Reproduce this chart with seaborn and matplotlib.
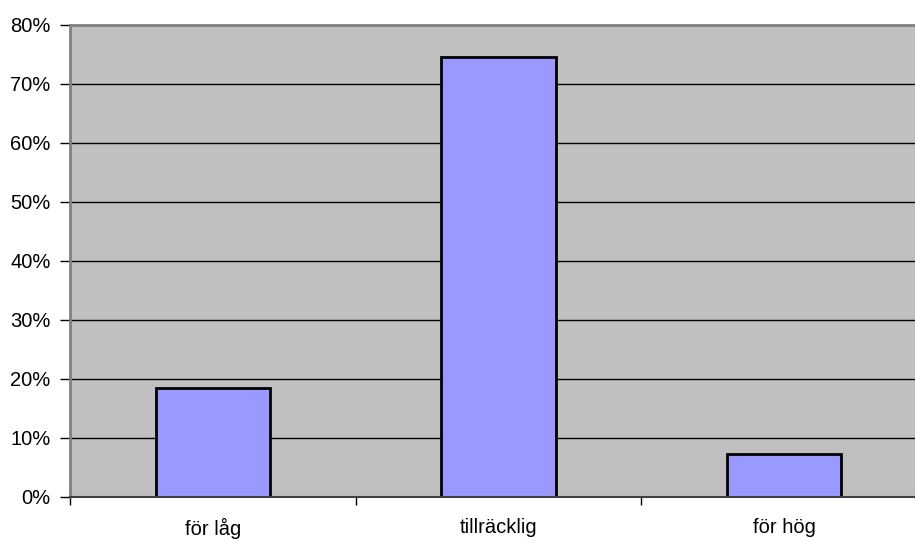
import matplotlib
matplotlib.use("Agg")
import matplotlib.pyplot as plt
import seaborn as sns
import pandas as pd
from matplotlib.ticker import FixedLocator, PercentFormatter

categories = ["för låg", "tillräcklig", "för hög"]
values = [18.4, 74.6, 7.2]
yticks = [0, 10, 20, 30, 40, 50, 60, 70, 80]

sns.set_style("white")
plt.rcParams['font.family'] = ['Liberation Sans', 'DejaVu Sans']

df = pd.DataFrame({"cat": categories, "val": values})

W, H = 915, 541
fig = plt.figure(figsize=(W / 100, H / 100), dpi=100)
left, right, top, bottom = 70, 927, 24.7, 496.7
ax = fig.add_axes([left / W, (H - bottom) / H, (right - left) / W, (bottom - top) / H])

sns.barplot(data=df, x="cat", y="val", ax=ax, color="#9999FF", width=0.40,
            edgecolor="black", linewidth=2, saturation=1)

ax.set_facecolor("#C0C0C0")
ax.set_xlim(-0.5, 2.5)
ax.set_ylim(0, 80)
ax.set_yticks(yticks)
ax.yaxis.set_major_formatter(PercentFormatter(decimals=0))
ax.yaxis.grid(True, color="black", linewidth=1)
ax.set_axisbelow(True)
ax.set_xlabel("")
ax.set_ylabel("")

ax.xaxis.set_minor_locator(FixedLocator([-0.5, 0.5, 1.5]))
ax.tick_params(axis="x", which="major", length=0, pad=15, labelsize=14.5, labelcolor="black")
ax.tick_params(axis="x", which="minor", length=6, width=1, color="black", direction="out", bottom=True)
ax.tick_params(axis="y", length=7, width=1, color="black", direction="out", left=True, pad=7,
               labelsize=14.5, labelcolor="black")

for s in ["top", "left"]:
    ax.spines[s].set_color("#808080")
    ax.spines[s].set_linewidth(2)
ax.spines["bottom"].set_color("#404040")
ax.spines["bottom"].set_linewidth(1.5)
ax.spines["right"].set_visible(False)

fig.savefig("out.png", dpi=100)
